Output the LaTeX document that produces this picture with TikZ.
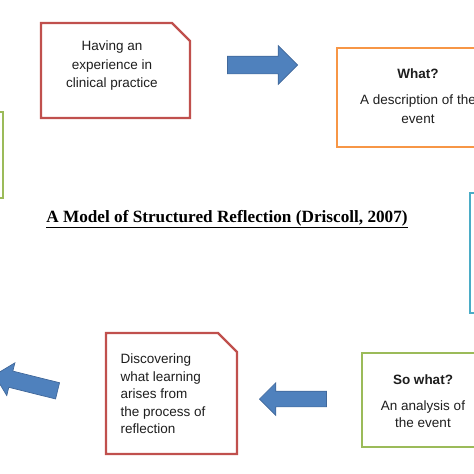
\documentclass[tikz,border=0pt]{standalone}
\usepackage{fontspec}
\setmainfont{Liberation Sans}
\newfontfamily\titlefont{Liberation Serif}
\usetikzlibrary{shapes.arrows}
\definecolor{boxred}{HTML}{C0504D}
\definecolor{boxorange}{HTML}{F79646}
\definecolor{boxgreen}{HTML}{9BBB59}
\definecolor{boxcyan}{HTML}{4BACC6}
\definecolor{arrowblue}{HTML}{4F81BD}
\definecolor{arrowedge}{HTML}{41689A}
\definecolor{inktext}{HTML}{1E1E1E}

\tikzset{
  stagebox/.style={draw=#1, line width=2.2pt, fill=white, inner sep=0pt},
  notebox/.style={draw=#1, line width=2.2pt, fill=white, line join=miter},
  stagetext/.style={text=inktext, align=center, inner sep=0pt,
    font=\fontsize{13.5}{18.5}\selectfont},
  blockarrow/.style={single arrow, fill=arrowblue, draw=arrowedge, line width=0.7pt,
    inner xsep=0pt, minimum width=0pt},
}

\begin{document}
\begin{tikzpicture}[x=1pt, y=-1pt]
  \useasboundingbox (0,0) rectangle (474,474);
  \fill[white] (0,0) rectangle (474,474);
  \clip (0,0) rectangle (474,474);

  % Having an experience
  \draw[notebox=boxred] (41,23) -- (172,23) -- (190,41) -- (190,118) -- (41,118) -- cycle;
  \node[stagetext] (experience) at (112,66) {Having an\\experience in\\clinical practice};

  % What?
  \node[stagebox=boxorange, minimum width=163pt, minimum height=99pt] (what) at (418.5,97.5) {};
  \node[stagetext] (whattext) at (418,96) {\textbf{What?}\\[8pt]A description of the\\event};

  % So what?
  \node[stagebox=boxgreen, minimum width=122pt, minimum height=94pt] (sowhat) at (423,400) {};
  \node[stagetext, font=\fontsize{13.5}{16.5}\selectfont] (sowhattext) at (423,401) {\textbf{So what?}\\[10pt]An analysis of\\the event};

  % Discovering what learning arises
  \draw[notebox=boxred] (106,333) -- (218,333) -- (237,352) -- (237,454) -- (106,454) -- cycle;
  \node[stagetext, align=left, anchor=north west, font=\fontsize{13.5}{17.5}\selectfont]
    (learning) at (120.5,354) {Discovering\\what learning\\arises from\\the process of\\reflection};

  % Now what? (only the edges show)
  \node[stagebox=boxgreen, minimum width=90pt, minimum height=86pt] (nowwhat) at (-42,155) {};
  \node[stagebox=boxcyan, minimum width=90pt, minimum height=120pt] (nowwhat2) at (515,253) {};

  % Title
  \node[text=black, inner sep=0pt, font=\titlefont\bfseries\fontsize{17.2}{20}\selectfont]
    (title) at (227,219) {\underline{A Model of Structured Reflection (Driscoll, 2007)}};

  % Block arrows between the stages
  \node[blockarrow, inner ysep=8.5pt, single arrow head extend=10.5pt, minimum height=70pt,
    anchor=tip] (toWhat) at (298,65) {};
  \node[blockarrow, inner ysep=7.5pt, single arrow head extend=8.5pt, minimum height=67pt,
    shape border rotate=180, anchor=tip] (toLearning) at (259,399) {};
  \node[blockarrow, inner ysep=8pt, single arrow head extend=8.5pt, minimum height=65pt,
    rotate=166, anchor=tip] (toNext) at (-6,375) {};
\end{tikzpicture}
\end{document}
